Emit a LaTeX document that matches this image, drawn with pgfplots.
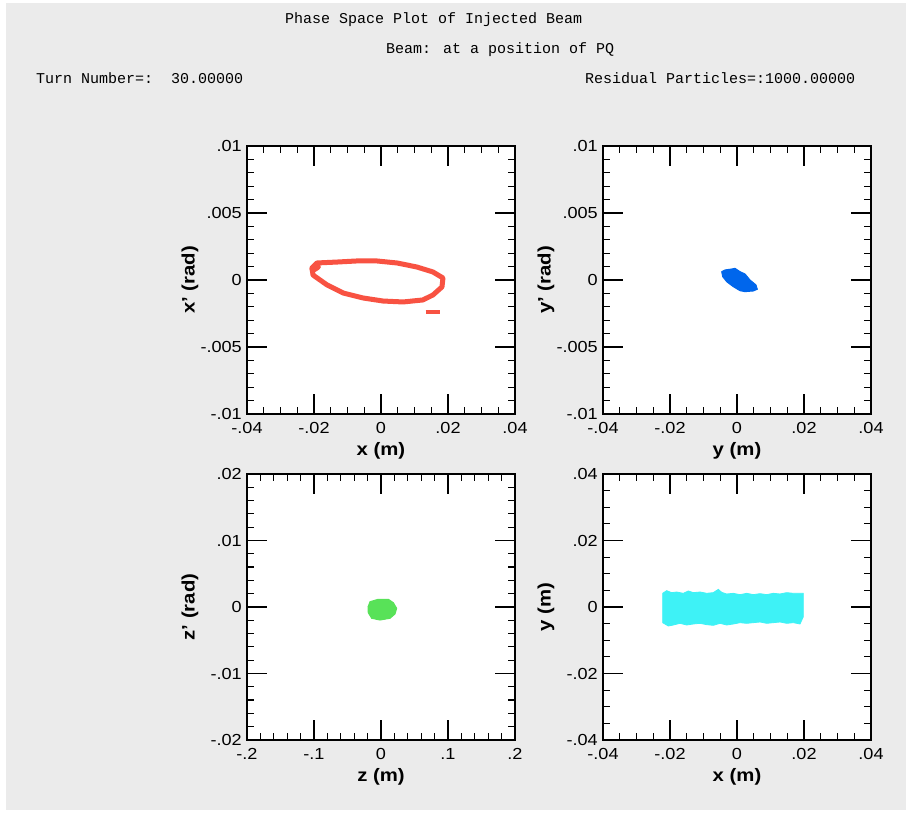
\documentclass[border=0pt]{standalone}
\usepackage{pgfplots}
\pgfplotsset{compat=1.18}
\usepackage{fontspec}
\setmainfont{Liberation Sans}[FakeStretch=1.13]
\newfontfamily\monofont{Liberation Mono}

\definecolor{panelgray}{RGB}{235,235,235}
\definecolor{beamred}{RGB}{248,82,66}
\definecolor{beamblue}{RGB}{0,102,236}
\definecolor{beamgreen}{RGB}{88,226,88}
\definecolor{beamcyan}{RGB}{62,242,246}

\pgfplotsset{
  phase/.style={
    scale only axis,
    width=268pt,
    axis background/.style={fill=white},
    axis line style={black, line width=1.4pt},
    tick align=inside,
    xtick pos=both, ytick pos=both,
    major tick length=20pt,
    minor tick length=7pt,
    every tick/.style={black, line width=1.2pt},
    every minor tick/.style={black, line width=1.2pt},
    tick label style={font=\fontsize{16}{18}\selectfont, inner sep=0pt},
    xticklabel style={anchor=north, yshift=-8pt},
    yticklabel style={anchor=east, xshift=-5pt},
    label style={font=\bfseries\fontsize{18}{20}\selectfont},
    xlabel style={at={(axis description cs:0.5,-0.138)}, anchor=center},
    ylabel style={at={(axis description cs:-0.213,0.5)}, anchor=center},
    scaled ticks=false,
  },
}

\begin{document}
\begin{tikzpicture}
\path[use as bounding box] (0,0) rectangle (906pt,813pt);
\fill[white] (0,0) rectangle (906pt,813pt);
\fill[panelgray] (6pt,3pt) rectangle (906pt,810pt);

% header lines
\begin{scope}[every node/.style={anchor=base west, inner sep=0pt, font=\monofont\fontsize{15}{18}\selectfont}]
\node at (285pt,789pt) {Phase Space Plot of Injected Beam};
\node at (386pt,759pt) {Beam: at a position of PQ};
\node at (36pt,729pt) {Turn Number=:\ \ 30.00000};
\node at (585pt,729pt) {Residual Particles=:1000.00000};
\end{scope}

% x - x' phase space
\begin{axis}[phase, at={(247pt,399pt)}, anchor=south west, height=268pt,
  xmin=-0.04, xmax=0.04, ymin=-0.01, ymax=0.01,
  xtick={-0.04,-0.02,0,0.02,0.04}, xticklabels={-.04,-.02,0,.02,.04},
  ytick={-0.01,-0.005,0,0.005,0.01}, yticklabels={-.01,-.005,0,.005,.01},
  minor x tick num=3, minor y tick num=4,
  xlabel={x (m)}, ylabel={x' (rad)}]
\addplot[beamred, line width=5pt, line join=round, line cap=round] coordinates {
  (-0.0206,0.0009) (-0.0191,0.00127) (-0.0131,0.00134) (-0.0072,0.00142)
  (-0.0012,0.00142) (0.0048,0.00127) (0.0107,0.00097) (0.0155,0.0006)
  (0.0185,0.00015) (0.0182,-0.00052) (0.0155,-0.00112) (0.0125,-0.00149)
  (0.0066,-0.00164) (0.0006,-0.00157) (-0.0054,-0.00134) (-0.0113,-0.00097)
  (-0.0161,-0.00037) (-0.0203,0.00037) (-0.0206,0.0009)
};
\addplot[beamred, line width=7pt, line cap=round] coordinates {
  (-0.0203,0.0008) (-0.0190,0.0010)
};
\addplot[beamred, line width=4pt] coordinates {
  (0.0133,-0.0024) (0.0175,-0.0024)
};
\end{axis}

% y - y' phase space
\begin{axis}[phase, at={(603pt,399pt)}, anchor=south west, height=268pt,
  xmin=-0.04, xmax=0.04, ymin=-0.01, ymax=0.01,
  xtick={-0.04,-0.02,0,0.02,0.04}, xticklabels={-.04,-.02,0,.02,.04},
  ytick={-0.01,-0.005,0,0.005,0.01}, yticklabels={-.01,-.005,0,.005,.01},
  minor x tick num=3, minor y tick num=4,
  xlabel={y (m)}, ylabel={y' (rad)}]
\addplot[beamblue, fill=beamblue, line width=1pt] coordinates {
  (-0.00457,0.00062) (-0.00358,0.00075) (-0.00158,0.00082) (-0.0006,0.00087)
  (0.0009,0.00062) (0.00239,0.00045) (0.00388,0.0) (0.00567,-0.00037)
  (0.00606,-0.00069) (0.00487,-0.00082) (0.00239,-0.00087) (0.0009,-0.0008)
  (-0.0011,-0.0005) (-0.00307,-0.00013) (-0.00427,0.00025) (-0.00457,0.00062)
};
\end{axis}

% z - z' phase space
\begin{axis}[phase, at={(247pt,73pt)}, anchor=south west, height=266pt,
  xmin=-0.2, xmax=0.2, ymin=-0.02, ymax=0.02,
  xtick={-0.2,-0.1,0,0.1,0.2}, xticklabels={-.2,-.1,0,.1,.2},
  ytick={-0.02,-0.01,0,0.01,0.02}, yticklabels={-.02,-.01,0,.01,.02},
  minor x tick num=4, minor y tick num=4,
  xlabel={z (m)}, ylabel={z' (rad)}]
\addplot[beamgreen, fill=beamgreen, line width=1pt] coordinates {
  (-0.0164,0.0008) (-0.004,0.00116) (0.0109,0.00116) (0.0184,0.00065)
  (0.0234,-0.0002) (0.0209,-0.00105) (0.0134,-0.0017) (-0.0015,-0.00196)
  (-0.0139,-0.0017) (-0.019,-0.00086) (-0.0194,0.0) (-0.0164,0.0008)
};
\end{axis}

% x - y real space
\begin{axis}[phase, at={(603pt,73pt)}, anchor=south west, height=266pt,
  xmin=-0.04, xmax=0.04, ymin=-0.04, ymax=0.04,
  xtick={-0.04,-0.02,0,0.02,0.04}, xticklabels={-.04,-.02,0,.02,.04},
  ytick={-0.04,-0.02,0,0.02,0.04}, yticklabels={-.04,-.02,0,.02,.04},
  minor x tick num=3, minor y tick num=3,
  xlabel={x (m)}, ylabel={y (m)}]
\addplot[beamcyan, fill=beamcyan, line width=0.8pt] coordinates {
  (-0.02219,0.00411) (-0.02099,0.00491) (-0.0195,0.00431) (-0.018,0.00451)
  (-0.01602,0.00411) (-0.01453,0.00481) (-0.01304,0.00431) (-0.01104,0.00451)
  (-0.00905,0.00411) (-0.00707,0.00431) (-0.00557,0.00531) (-0.00458,0.00441)
  (-0.00308,0.00391) (-0.0011,0.00411) (0.0009,0.00371) (0.00289,0.00411)
  (0.00487,0.00371) (0.00687,0.00401) (0.00886,0.00371) (0.01085,0.00411)
  (0.01284,0.00391) (0.01483,0.00431) (0.01682,0.00411) (0.0198,0.00411)
  (0.0198,-0.00291) (0.01881,-0.00511) (0.01682,-0.00471) (0.01483,-0.00491)
  (0.01284,-0.00451) (0.01085,-0.00471) (0.00886,-0.00491) (0.00687,-0.00451)
  (0.00487,-0.00471) (0.00289,-0.00491) (0.0009,-0.00471) (-0.0011,-0.00511)
  (-0.00308,-0.00541) (-0.00507,-0.00491) (-0.00707,-0.00551) (-0.00905,-0.00531)
  (-0.01104,-0.00491) (-0.01304,-0.00511) (-0.01502,-0.00541) (-0.01701,-0.00491)
  (-0.019,-0.00541) (-0.0205,-0.00571) (-0.02219,-0.00471) (-0.02219,0.00411)
};
\end{axis}
\end{tikzpicture}
\end{document}
